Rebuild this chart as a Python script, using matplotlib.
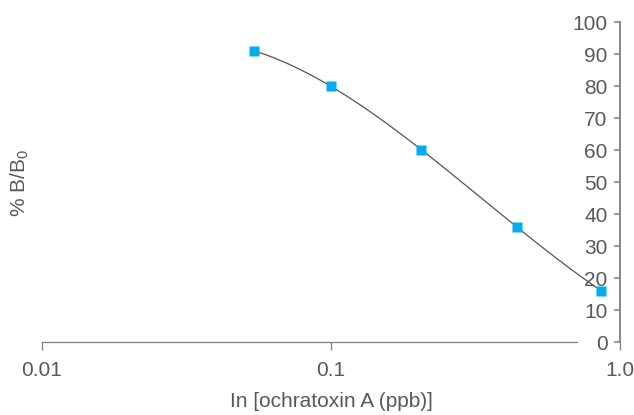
import numpy as np
import matplotlib
matplotlib.use("Agg")
import matplotlib.pyplot as plt
from matplotlib.ticker import FixedLocator, FixedFormatter, NullLocator

# Data
conc = [0.054, 0.1, 0.205, 0.44, 0.86]
pct_b = [91, 80, 60, 36, 16]
x_ticks = [0.01, 0.1, 1.0]
x_tick_labels = ["0.01", "0.1", "1.0"]
y_ticks = list(range(0, 101, 10))

plt.rcParams['font.family'] = ['Liberation Sans', 'DejaVu Sans']
plt.rcParams['mathtext.fontset'] = 'custom'
plt.rcParams['mathtext.rm'] = 'Liberation Sans'
plt.rcParams['mathtext.it'] = 'Liberation Sans'
TXT = '#595959'
AX = '#7f7f7f'

fig = plt.figure(figsize=(6.34, 4.15), dpi=100)
W, H = 634, 415
x0, x1 = 42, 620
y0, y1 = 342, 22
ax = fig.add_axes([x0 / W, (H - y0) / H, (x1 - x0) / W, (y0 - y1) / H])

ax.set_xscale('log')
ax.set_xlim(0.01, 1.0)
ax.set_ylim(0, 100)

# smooth fitted curve (cubic in log-concentration)
lx = np.log10(conc)
coef = np.polyfit(lx, pct_b, 3)
xx = np.linspace(lx[0], lx[-1], 200)
ax.plot(10 ** xx, np.polyval(coef, xx), color='#555555', lw=0.9, zorder=2, clip_on=False)
ax.plot(conc, pct_b, ls='none', marker='s', ms=7.5, color='#00AEEF', mec='none', zorder=3, clip_on=False)

for s in ['top', 'right']:
    ax.spines[s].set_visible(False)
ax.spines['left'].set_position(('data', 1.0))
ax.spines['left'].set_bounds(0, 100)
ax.spines['bottom'].set_bounds(0.01, 0.71)
for s in ['left', 'bottom']:
    ax.spines[s].set_color(AX)
ax.spines['left'].set_linewidth(1.3)
ax.spines['bottom'].set_linewidth(0.9)

ax.xaxis.set_major_locator(FixedLocator(x_ticks))
ax.xaxis.set_major_formatter(FixedFormatter(x_tick_labels))
ax.xaxis.set_minor_locator(NullLocator())
ax.yaxis.set_major_locator(FixedLocator(y_ticks))

ax.tick_params(axis='x', direction='out', length=6, width=0.9, color=AX,
               labelsize=15, labelcolor=TXT, pad=7.5)
ax.tick_params(axis='y', direction='out', length=4, width=1.1, color=AX,
               labelsize=15, labelcolor=TXT, pad=5)

ax.set_xlabel('In [ochratoxin A (ppb)]', fontsize=15, color=TXT, labelpad=9)
fig.text(20 / W, (H - 183) / H, '% B/B$_0$', rotation=90, fontsize=15, color=TXT,
         ha='center', va='center')

fig.savefig('out.png', dpi=100)
